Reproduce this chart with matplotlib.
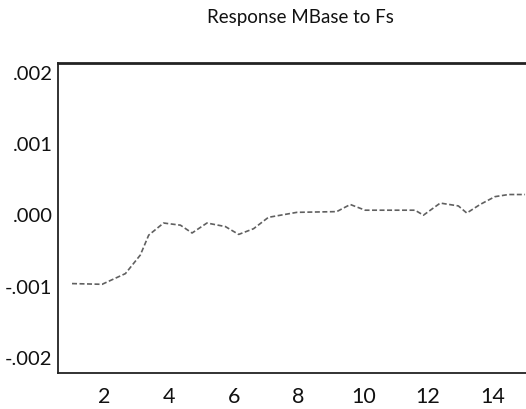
import matplotlib
matplotlib.use("Agg")
import matplotlib.pyplot as plt

# data
periods = [1.0, 1.93, 2.65, 3.11, 3.37, 3.83, 4.35, 4.71, 5.17, 5.74, 6.15, 6.61,
           7.07, 7.95, 9.18, 9.6, 10.06, 11.6, 11.86, 12.38, 12.94, 13.2, 13.61,
           14.07, 14.49, 15.0]
response = [-0.00097, -0.00098, -0.00083, -0.00057, -0.00029, -0.00012, -0.00015,
            -0.00026, -0.00012, -0.00017, -0.00028, -0.00020, -0.00004, 0.00003,
            0.00004, 0.00014, 0.00006, 0.00006, -0.00001, 0.00016, 0.00012,
            0.00002, 0.00014, 0.00025, 0.00028, 0.00028]
xticks = [2, 4, 6, 8, 10, 12, 14]
yticks = [-0.002, -0.001, 0.0, 0.001, 0.002]
ytick_labels = ["-.002", "-.001", ".000", ".001", ".002"]
title = "Response MBase to Fs"

plt.rcParams['font.family'] = ['Lato', 'DejaVu Sans']

fig = plt.figure(figsize=(5.26, 4.10), dpi=100)
ax = fig.add_axes([58/526, 36/410, 1 - 58/526, (374-64)/410])

ax.plot(periods, response, color="#606060", linewidth=1.2, linestyle=(0, (3, 1.5)))

ax.set_xlim(0.567, 15.03)
ax.set_ylim(-0.002225, 0.002126)
ax.set_xticks(xticks)
ax.set_xticklabels([str(t) for t in xticks])
ax.set_yticks(yticks)
ax.set_yticklabels(ytick_labels)
ax.tick_params(axis='x', length=0, pad=9.5, labelsize=15.5, labelcolor='#111111')
ax.tick_params(axis='y', length=0, pad=4, labelsize=14.5, labelcolor='#111111')

ax.spines['right'].set_visible(False)
for s in ['left', 'bottom']:
    ax.spines[s].set_linewidth(1.3)
    ax.spines[s].set_color('#222222')
ax.spines['top'].set_linewidth(2.0)
ax.spines['top'].set_color('#222222')

fig.text(300/526, 1 - 18/410, title, ha='center', va='center', fontsize=13.5,
         color='#111111')

fig.savefig("out.png", dpi=100)
